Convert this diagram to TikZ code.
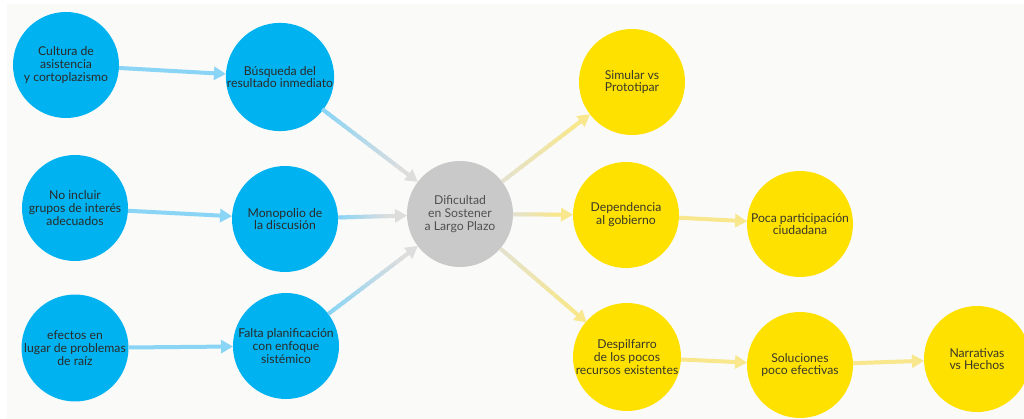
\documentclass[tikz,border=0pt]{standalone}
\usepackage{fontspec}
\setmainfont{Lato}
\usetikzlibrary{arrows.meta,calc}
\definecolor{bgc}{HTML}{FAFAF8}
\definecolor{cblue}{HTML}{00B3F0}
\definecolor{cyel}{HTML}{FFE100}
\definecolor{cgray}{HTML}{C9C9C9}
\definecolor{eblue}{HTML}{8AD5F6}
\definecolor{egray}{HTML}{DDDDDD}
\definecolor{eyel}{HTML}{F8E78C}
\definecolor{egy}{HTML}{E4E2CE}
\definecolor{tdark}{HTML}{2A2A2A}
\definecolor{tyel}{HTML}{38382A}
\definecolor{tgray}{HTML}{505050}
\tikzset{
  bub/.style={circle,minimum size=106pt,inner sep=0pt,outer sep=0pt,align=center,
    font=\fontsize{12.2}{12.8}\selectfont},
  bluebub/.style={bub,fill=cblue,text=tdark},
  yelbub/.style={bub,fill=cyel,text=tyel},
  graybub/.style={bub,fill=cgray,text=tgray},
  conn/.style={line width=4pt,-{Triangle[length=12pt,width=13pt]}},
}
\newcommand\gradedge[4]{%
  \path ($(#1.center)!53pt!(#2.center)$) coordinate (gs)
        ($(#2.center)!53pt!(#1.center)$) coordinate (ge)
        ($(ge)!16pt!(gs)$) coordinate (gm);
  \foreach \gi in {0,...,15}{%
    \pgfmathsetmacro\gA{\gi/16}%
    \pgfmathsetmacro\gB{min((\gi+1.4)/16,1)}%
    \pgfmathtruncatemacro\gP{100-\gi*100/15}%
    \draw[line width=4pt,#3!\gP!#4] ($(gs)!\gA!(gm)$) -- ($(gs)!\gB!(gm)$);
  }%
  \draw[conn,#4] (gm) -- (ge);
}
\begin{document}
\begin{tikzpicture}[x=1pt,y=-1pt]
\useasboundingbox (0,0) rectangle (1024,419);
\clip (0,0) rectangle (1024,419);
\fill[white] (0,0) rectangle (1024,419);
\fill[bgc] (7,4) rectangle (1024,419);

\node[bluebub] (cul) at (66,65) {Cultura de\\asistencia\\y cortoplazismo};
\node[bluebub] (bus) at (280,77) {Búsqueda del\\resultado inmediato};
\node[bluebub] (noi) at (75,208) {No incluir\\grupos de interés\\adecuados};
\node[bluebub] (mon) at (285,219) {Monopolio de\\la discusión};
\node[bluebub] (efe) at (75,348) {efectos en\\lugar de problemas\\de raíz};
\node[bluebub] (fal) at (286,346) {Falta planificación\\con enfoque\\sistémico};
\node[graybub] (dif) at (460,214) {Dificultad\\en Sostener\\a Largo Plazo};
\node[yelbub] (sim) at (632,82) {Simular vs\\Prototipar};
\node[yelbub] (dep) at (626,215) {Dependencia\\al gobierno};
\node[yelbub] (poc) at (800,224) {Poca participación\\ciudadana};
\node[yelbub] (des) at (627,357) {Despilfarro\\de los pocos\\recursos existentes};
\node[yelbub] (sol) at (800,365) {Soluciones\\poco efectivas};
\node[yelbub] (nar) at (977,359) {Narrativas\\vs Hechos};

\draw[conn,eblue] (cul) -- (bus);
\draw[conn,eblue] (noi) -- (mon);
\draw[conn,eblue] (efe) -- (fal);
\gradedge{bus}{dif}{eblue}{egray}
\gradedge{mon}{dif}{eblue}{egray}
\gradedge{fal}{dif}{eblue}{egray}
\gradedge{dif}{sim}{egy}{eyel}
\gradedge{dif}{dep}{egy}{eyel}
\gradedge{dif}{des}{egy}{eyel}
\draw[conn,eyel] (dep) -- (poc);
\draw[conn,eyel] (des) -- (sol);
\draw[conn,eyel] (sol) -- (nar);
\end{tikzpicture}
\end{document}
